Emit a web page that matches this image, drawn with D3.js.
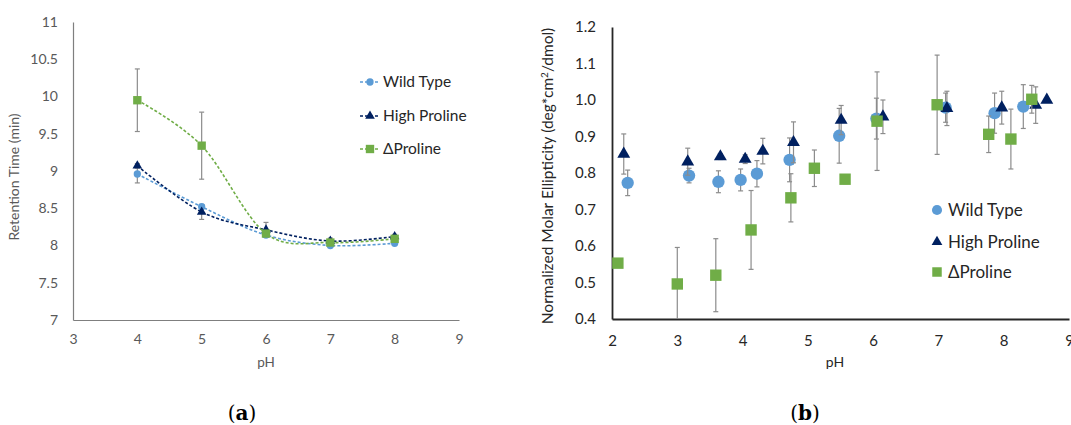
<!DOCTYPE html>
<html>
<head>
<meta charset="utf-8">
<script src="https://cdn.jsdelivr.net/npm/d3@7"></script>
<style>
  html, body { margin: 0; padding: 0; background: #fff; }
  svg { display: block; font-family: Lato, "Noto Sans", sans-serif; }
</style>
</head>
<body>
<svg id="chart" width="1071" height="425"></svg>
<script>
// ---- Panel (a): retention time vs pH ----
const phA = [4, 5, 6, 7, 8];
const wtRet = [8.96, 8.52, 8.14, 8.00, 8.03];
const wtRetErr = [0.12, 0.03, 0.03, 0.02, 0.02];
const hpRet = [9.07, 8.45, 8.21, 8.06, 8.12];
const hpRetErr = [0.03, 0.10, 0.10, 0.04, 0.03];
const dpRet = [9.95, 9.34, 8.16, 8.04, 8.09];
const dpRetErr = [0.42, 0.45, 0.03, 0.03, 0.03];
const xTicksA = [3, 4, 5, 6, 7, 8, 9];
const yTicksA = [7, 7.5, 8, 8.5, 9, 9.5, 10, 10.5, 11];

// ---- Panel (b): normalized molar ellipticity vs pH ----
const wtPh = [2.24, 3.18, 3.63, 3.97, 4.22, 4.72, 5.48, 6.05, 7.11, 7.86, 8.30];
const wtEll = [0.773, 0.793, 0.776, 0.781, 0.798, 0.836, 0.902, 0.949, 0.979, 0.964, 0.982];
const wtEllErr = [0.035, 0.02, 0.03, 0.03, 0.036, 0.06, 0.075, 0.056, 0.04, 0.055, 0.06];
const hpPh = [2.18, 3.16, 3.66, 4.04, 4.31, 4.78, 5.51, 6.15, 7.13, 7.97, 8.49, 8.66];
const hpEll = [0.852, 0.831, 0.845, 0.838, 0.860, 0.884, 0.945, 0.954, 0.977, 0.979, 0.986, 1.0];
const hpEllErr = [0.055, 0.037, 0.008, 0.012, 0.035, 0.056, 0.04, 0.046, 0.047, 0.045, 0.05, 0.004];
const dpPh = [2.09, 3.0, 3.59, 4.13, 4.74, 5.10, 5.57, 6.06, 6.98, 7.77, 8.11, 8.43];
const dpEll = [0.553, 0.496, 0.520, 0.644, 0.732, 0.813, 0.783, 0.942, 0.987, 0.906, 0.893, 1.002];
const dpEllErr = [0.0, 0.10, 0.10, 0.108, 0.066, 0.05, 0.012, 0.135, 0.136, 0.05, 0.082, 0.038];
const xTicksB = [2, 3, 4, 5, 6, 7, 8, 9];
const yTicksB = [0.4, 0.5, 0.6, 0.7, 0.8, 0.9, 1.0, 1.1, 1.2];

const seriesNames = ["Wild Type", "High Proline", "\u0394Proline"];
const colors = ["#5B9BD5", "#002060", "#70AD47"];
const shapes = [d3.symbolCircle, d3.symbolTriangle, d3.symbolSquare];
const errColor = "#8c8c8c";

const svg = d3.select("#chart");

function marker(g, shapeIdx, x, y, size, color) {
  g.append("path")
    .attr("d", d3.symbol().type(shapes[shapeIdx]).size(size)())
    .attr("transform", `translate(${x},${y})`)
    .attr("fill", color);
}

function errorBars(g, xs, ys, es, x, y, cap, clipY) {
  xs.forEach((px, i) => {
    if (!es[i]) return;
    const cx = x(px);
    const top = y(ys[i] + es[i]);
    let bot = y(ys[i] - es[i]);
    const showBotCap = bot <= clipY;
    bot = Math.min(bot, clipY);
    g.append("line").attr("x1", cx).attr("x2", cx).attr("y1", top).attr("y2", bot)
      .attr("stroke", errColor).attr("stroke-width", 1.2);
    g.append("line").attr("x1", cx - cap).attr("x2", cx + cap).attr("y1", top).attr("y2", top)
      .attr("stroke", errColor).attr("stroke-width", 1.2);
    if (showBotCap)
      g.append("line").attr("x1", cx - cap).attr("x2", cx + cap).attr("y1", bot).attr("y2", bot)
        .attr("stroke", errColor).attr("stroke-width", 1.2);
  });
}

// ================= Panel (a) =================
{
  const x = d3.scaleLinear().domain([3, 9]).range([73, 459]);
  const y = d3.scaleLinear().domain([7, 11]).range([320, 22]);
  const g = svg.append("g");

  // axes
  const ax = g.append("g").attr("transform", `translate(0,${y(7)})`)
    .call(d3.axisBottom(x).tickValues(xTicksA).tickSize(0).tickSizeOuter(0).tickPadding(14).tickFormat(d3.format("d")));
  const ay = g.append("g").attr("transform", `translate(${x(3)},0)`)
    .call(d3.axisLeft(y).tickValues(yTicksA).tickSize(0).tickSizeOuter(0).tickPadding(15).tickFormat(d => String(d)));
  [ax, ay].forEach(a => {
    a.select(".domain").attr("stroke", "#7f7f7f").attr("stroke-width", 1.2);
    a.selectAll("text").attr("fill", "#595959").style("font-size", "14px").style("font-family", "Lato");
  });

  g.append("text").attr("x", x(6)).attr("y", 367).attr("text-anchor", "middle")
    .attr("fill", "#595959").style("font-size", "13.5px").text("pH");
  g.append("text").attr("transform", `translate(19,${177}) rotate(-90)`).attr("text-anchor", "middle")
    .attr("fill", "#595959").style("font-size", "14px").text("Retention Time (min)");

  const sets = [[wtRet, wtRetErr], [hpRet, hpRetErr], [dpRet, dpRetErr]];
  const line = d3.line().x(d => x(d[0])).y(d => y(d[1])).curve(d3.curveCatmullRom.alpha(0));
  const sizes = [42, 40, 70];

  sets.forEach(([vals, errs], s) => {
    errorBars(g, phA, vals, errs, x, y, 2.5, y(7));
  });
  sets.forEach(([vals, errs], s) => {
    g.append("path").datum(phA.map((p, i) => [p, vals[i]])).attr("d", line)
      .attr("fill", "none").attr("stroke", colors[s]).attr("stroke-width", 1.6)
      .attr("stroke-dasharray", "3,2");
  });
  sets.forEach(([vals, errs], s) => {
    phA.forEach((p, i) => marker(g, s, x(p), y(vals[i]), sizes[s], colors[s]));
  });

  // legend
  const lg = g.append("g");
  const legY = [82, 116, 149];
  seriesNames.forEach((name, s) => {
    lg.append("line").attr("x1", 360).attr("x2", 380).attr("y1", legY[s]).attr("y2", legY[s])
      .attr("stroke", colors[s]).attr("stroke-width", 1.6).attr("stroke-dasharray", "3,2");
    marker(lg, s, 370, legY[s], sizes[s], colors[s]);
    lg.append("text").attr("x", 383).attr("y", legY[s]).attr("dy", "0.35em")
      .attr("fill", "#262626").style("font-size", "15.5px").text(name);
  });

  g.append("text").attr("x", 242).attr("y", 420).attr("text-anchor", "middle")
    .style("font-family", "'DejaVu Serif', 'Liberation Serif', serif").style("font-size", "20px").attr("fill", "#000")
    .html('(<tspan font-weight="bold">a</tspan>)');
}

// ================= Panel (b) =================
{
  const x = d3.scaleLinear().domain([2, 9]).range([612, 1069]);
  const y = d3.scaleLinear().domain([0.4, 1.2]).range([319, 27]);
  const g = svg.append("g");

  const ax = g.append("g").attr("transform", `translate(0,${y(0.4)})`)
    .call(d3.axisBottom(x).tickValues(xTicksB).tickSize(0).tickSizeOuter(0).tickPadding(16).tickFormat(d3.format("d")));
  const ay = g.append("g").attr("transform", `translate(${x(2)},0)`)
    .call(d3.axisLeft(y).tickValues(yTicksB).tickSize(0).tickSizeOuter(0).tickPadding(16).tickFormat(d3.format(".1f")));
  [ax, ay].forEach(a => {
    a.select(".domain").attr("stroke", "#262626").attr("stroke-width", 1.8);
    a.selectAll("text").attr("fill", "#262626").style("font-size", "15px").style("font-family", "Lato");
  });

  g.append("text").attr("x", 835).attr("y", 367).attr("text-anchor", "middle")
    .attr("fill", "#262626").style("font-size", "14px").text("pH");
  g.append("text").attr("transform", `translate(553,${176}) rotate(-90)`).attr("text-anchor", "middle")
    .attr("fill", "#262626").style("font-size", "15.5px")
    .html('Normalized Molar Ellipticity (deg*cm<tspan dy="-5" font-size="10px">2</tspan><tspan dy="5">/dmol)</tspan>');

  const sets = [[wtPh, wtEll, wtEllErr], [hpPh, hpEll, hpEllErr], [dpPh, dpEll, dpEllErr]];
  const sizes = [120, 72, 130];
  sets.forEach(([ph, vals, errs], s) => {
    errorBars(g, ph, vals, errs, x, y, 2.5, y(0.4));
    ph.forEach((p, i) => marker(g, s, x(p), y(vals[i]), sizes[s], colors[s]));
  });

  const legY = [210, 242, 272];
  seriesNames.forEach((name, s) => {
    marker(g, s, 937, legY[s], [80, 50, 90][s], colors[s]);
    g.append("text").attr("x", 948).attr("y", legY[s]).attr("dy", "0.35em")
      .attr("fill", "#262626").style("font-size", "17px").text(name);
  });

  g.append("text").attr("x", 805).attr("y", 420).attr("text-anchor", "middle")
    .style("font-family", "'DejaVu Serif', 'Liberation Serif', serif").style("font-size", "20px").attr("fill", "#000")
    .html('(<tspan font-weight="bold">b</tspan>)');
}
</script>
</body>
</html>
